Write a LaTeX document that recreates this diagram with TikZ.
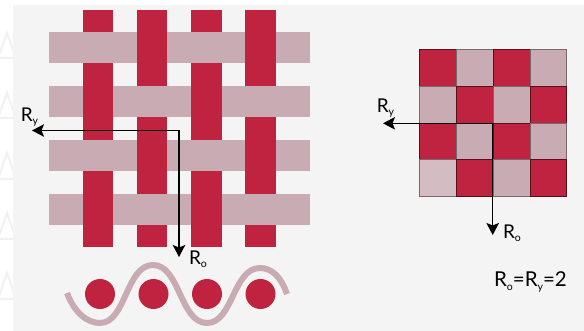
\documentclass[tikz,border=0pt]{standalone}
\usepackage{fontspec}
\setmainfont{Lato}
\usetikzlibrary{arrows.meta}
\definecolor{warpred}{HTML}{BF2340}
\definecolor{weftpale}{HTML}{C8ABB3}
\definecolor{paper}{HTML}{F4F4F4}
\definecolor{faintgrey}{HTML}{F1F1F1}
\newcommand{\lowtext}[1]{\raisebox{-0.3ex}{\fontsize{10.5}{11}\selectfont #1}}

\begin{document}
\begin{tikzpicture}[x=1pt,y=-1pt,line join=miter]
  \tikzstyle{warp}=[rectangle,fill=warpred,inner sep=0pt,minimum width=30.5pt,minimum height=236.5pt]
  \tikzstyle{warptop}=[rectangle,fill=warpred,inner sep=0pt,minimum width=30.5pt,minimum height=31pt]
  \tikzstyle{weft}=[rectangle,fill=weftpale,inner sep=0pt,minimum width=260.5pt,minimum height=30.7pt]
  \tikzstyle{pick}=[circle,fill=warpred,inner sep=0pt,minimum size=30pt]
  \tikzstyle{cellred}=[rectangle,fill=warpred,draw=black!55!warpred,line width=.4pt,inner sep=0pt,minimum size=36.8pt]
  \tikzstyle{cellpale}=[rectangle,fill=weftpale,draw=black!40!weftpale,line width=.4pt,inner sep=0pt,minimum size=36.8pt]
  \tikzstyle{axis}=[{Stealth[length=12pt,width=12.5pt,inset=2.5pt]}-{Stealth[length=12pt,width=12.5pt,inset=2.5pt]},black,line width=1.5pt]
  \tikzstyle{caption}=[inner sep=0pt,font=\fontsize{19}{20}\selectfont]
  \tikzstyle{faint}=[draw=faintgrey,line width=2pt]

  \useasboundingbox (0,0) rectangle (584,331);
  \fill[white] (0,0) rectangle (584,331);

  % faint marks in the left margin
  \draw[faint] (-2,58) -- (7,33) -- (16,58) -- cycle;
  \draw[faint] (-2,118) -- (7,93) -- (16,118) -- cycle;
  \draw[faint] (-2,179) -- (7,153) -- (16,179) -- cycle;
  \draw[faint] (-2,239) -- (7,213) -- (16,239) -- cycle;
  \draw[faint] (-2,299) -- (7,273) -- (16,299) -- cycle;
  \fill[paper] (13,5) rectangle (584,331);

  % warp threads
  \node[warp] (W_1) at (98,128.3) {};
  \node[warp] (W_2) at (152.2,128.3) {};
  \node[warp] (W_3) at (206.3,128.3) {};
  \node[warp] (W_4) at (260.5,128.3) {};

  % weft threads
  \node[weft] (F_1) at (179.3,47.3) {};
  \node[weft] (F_2) at (179.3,101.3) {};
  \node[weft] (F_3) at (179.3,155.3) {};
  \node[weft] (F_4) at (179.3,209.3) {};

  % warp on top
  \node[warptop] (T_1) at (98,101.3) {};
  \node[warptop] (T_2) at (98,209.3) {};
  \node[warptop] (T_3) at (152.2,47.3) {};
  \node[warptop] (T_4) at (152.2,155.3) {};
  \node[warptop] (T_5) at (206.3,101.3) {};
  \node[warptop] (T_6) at (206.3,209.3) {};
  \node[warptop] (T_7) at (260.5,47.3) {};
  \node[warptop] (T_8) at (260.5,155.3) {};

  % cross section
  \node[pick] (P_1) at (100,294) {};
  \node[pick] (P_2) at (153.5,294) {};
  \node[pick] (P_3) at (207,294) {};
  \node[pick] (P_4) at (260.5,294) {};
  \draw[weftpale,line width=6pt] (67,293) .. controls (75,314) and (88,323) .. (100,323)
    .. controls (126,323) and (126,265) .. (153,265)
    .. controls (180,265) and (180,323) .. (207,323)
    .. controls (233,323) and (233,268) .. (260,268)
    .. controls (272,268) and (281,277) .. (287,294);

  % checker pattern
  \node[cellred] (C_11) at (437.7,67.7) {};
  \node[cellpale] (C_12) at (474.5,67.7) {};
  \node[cellred] (C_13) at (511.3,67.7) {};
  \node[cellpale] (C_14) at (548.1,67.7) {};
  \node[cellpale] (C_21) at (437.7,104.5) {};
  \node[cellred] (C_22) at (474.5,104.5) {};
  \node[cellpale] (C_23) at (511.3,104.5) {};
  \node[cellred] (C_24) at (548.1,104.5) {};
  \node[cellred] (C_31) at (437.7,141.3) {};
  \node[cellpale] (C_32) at (474.5,141.3) {};
  \node[cellred] (C_33) at (511.3,141.3) {};
  \node[cellpale] (C_34) at (548.1,141.3) {};
  \node[cellpale,fill=weftpale!80!white] (C_41) at (437.7,178.1) {};
  \node[cellred] (C_42) at (474.5,178.1) {};
  \node[cellpale] (C_43) at (511.3,178.1) {};
  \node[cellred] (C_44) at (548.1,178.1) {};

  % arrows
  \coordinate (A_y) at (32,130.5);
  \coordinate (A_c) at (179,130.5);
  \coordinate (A_o) at (179,257);
  \draw[axis] (A_y) -- (A_c) -- (A_o);
  \coordinate (B_y) at (383,123.3);
  \coordinate (B_c) at (492.7,123.3);
  \coordinate (B_o) at (492.7,235);
  \draw[axis] (B_y) -- (B_c) -- (B_o);

  % labels
  \node[caption] (L_1) at (29.5,117) {R\lowtext{y}};
  \node[caption] (L_2) at (198,259) {R\lowtext{o}};
  \node[caption] (L_3) at (385.5,108) {R\lowtext{y}};
  \node[caption] (L_4) at (512,233) {R\lowtext{o}};
  \node[caption,font=\fontsize{20.5}{22}\selectfont] (L_5) at (530.5,282) {R\lowtext{o}=R\lowtext{y}=2};
\end{tikzpicture}
\end{document}
